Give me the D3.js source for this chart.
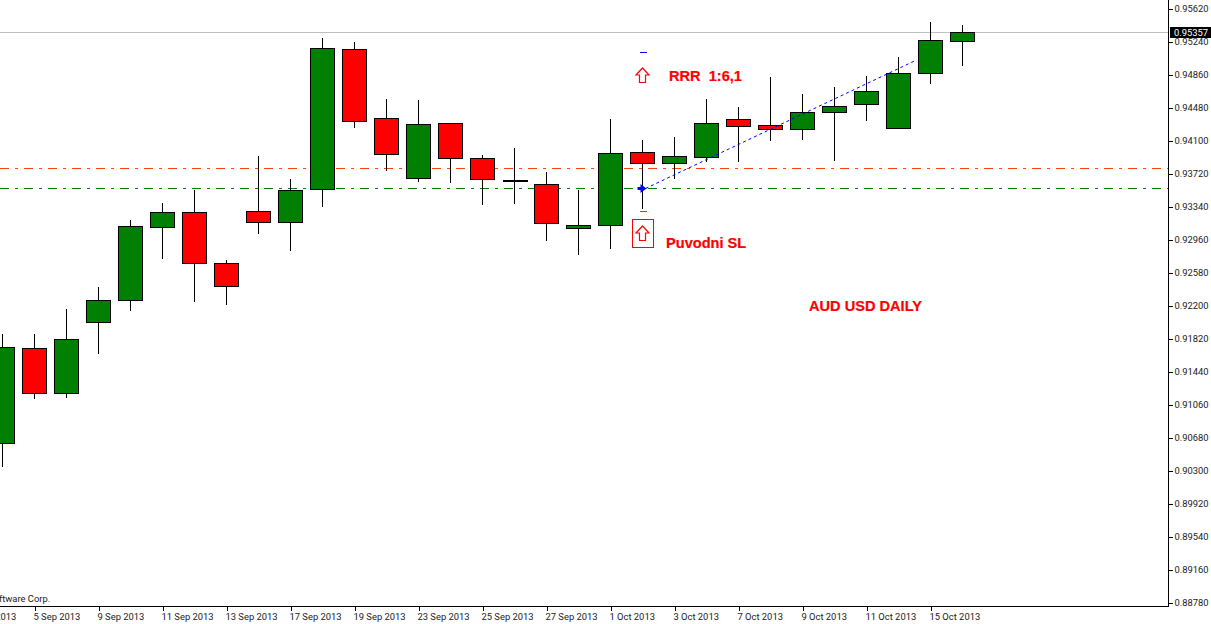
<!DOCTYPE html>
<html><head><meta charset="utf-8">
<style>html,body{margin:0;padding:0;background:#fff;overflow:hidden}svg{display:block}
.ax text{font-family:"Roboto",sans-serif;font-size:9.4px;fill:#1a1a1a}
.note{font-family:"Liberation Sans",Arial,sans-serif;font-weight:700;font-size:14.6px;fill:#ff0000;stroke:#ff0000;stroke-width:.2px}</style>
<script src="https://cdn.jsdelivr.net/npm/d3@7"></script></head><body><svg id="c" width="1211" height="624"></svg>
<script>
const categories=["3 Sep","4 Sep","5 Sep","6 Sep","9 Sep","10 Sep","11 Sep","12 Sep","13 Sep","16 Sep","17 Sep","18 Sep","19 Sep","20 Sep","23 Sep","24 Sep","25 Sep","26 Sep","27 Sep","30 Sep","1 Oct","2 Oct","3 Oct","4 Oct","7 Oct","8 Oct","9 Oct","10 Oct","11 Oct","14 Oct","15 Oct","16 Oct"];
const candleDates=categories.slice(1);
const opens=[.90622,.91716,.91198,.92016,.92269,.93110,.93282,.92695,.93294,.93167,.93547,.95159,.94365,.93674,.94307,.93904,.93651,.93605,.93098,.93133,.93973,.93847,.93916,.94353,.94284,.94238,.94434,.94526,.94250,.94883,.95252];
const closes=[.91728,.91198,.91820,.92269,.93121,.93282,.92695,.92430,.93167,.93536,.95171,.94330,.93950,.94296,.93904,.93662,.93651,.93156,.93133,.93962,.93847,.93927,.94307,.94273,.94238,.94434,.94503,.94676,.94883,.95263,.95355];
const highs=[.91878,.91878,.92166,.92419,.93190,.93386,.93536,.92730,.93927,.93662,.95286,.95240,.94584,.94572,.94307,.93939,.94019,.93743,.93536,.94353,.94112,.94146,.94584,.94492,.94837,.94641,.94722,.94848,.95067,.95470,.95436];
const lows=[.90358,.91141,.91152,.91659,.92154,.92753,.92258,.92223,.93041,.92845,.93352,.94261,.93766,.93639,.93628,.93375,.93386,.92960,.92799,.92868,.93329,.93674,.93870,.93870,.94112,.94123,.93881,.94342,.94250,.94768,.94975];
const priceTicks=[.95620,.95240,.94860,.94480,.94100,.93720,.93340,.92960,.92580,.92200,.91820,.91440,.91060,.90680,.90300,.89920,.89540,.89160,.88780];
const dateTicks=["3 Sep","5 Sep","9 Sep","11 Sep","13 Sep","17 Sep","19 Sep","23 Sep","25 Sep","27 Sep","1 Oct","3 Oct","7 Oct","9 Oct","11 Oct","15 Oct"];
const lastPrice=.95357, orangeLevel=.93789, greenLevel=.93559;
const trendDates=["2 Oct","14 Oct"], trendPrices=[.93559,.95033], trendEndShift=17;
const stopMark=.93294, targetMark=.95120, upArrowPrices=[.94865,.93045];

const svg=d3.select("#c");
const W=1168,B=606;
const x=d3.scalePoint().domain(categories).range([-29.5,962.5]);
const yRaw=d3.scaleLinear().domain([.9562,.8878]).range([9,603]);
const y=v=>Math.round(yRaw(v))+.5;
const GREEN="#008000",RED="#ff0000";

[[lastPrice,"#c0c0c0",null],[orangeLevel,"#ff4500","9 6 3 6"],[greenLevel,"#008000","9 6 3 6"]].forEach(([v,c,d])=>{
  svg.append("line").attr("x1",0).attr("x2",W).attr("y1",y(v)).attr("y2",y(v)).attr("stroke",c).attr("stroke-dasharray",d).attr("shape-rendering","crispEdges");
});
const g=svg.append("g").attr("shape-rendering","crispEdges");
candleDates.forEach((d,i)=>{
  const cx=x(d);
  g.append("line").attr("x1",cx).attr("x2",cx).attr("y1",y(highs[i])-.5).attr("y2",y(lows[i])+.5).attr("stroke","#000");
  const t=Math.max(opens[i],closes[i]),b=Math.min(opens[i],closes[i]);
  if(t===b){g.append("line").attr("x1",cx-12).attr("x2",cx+13).attr("y1",y(t)).attr("y2",y(t)).attr("stroke","#000").attr("stroke-width",2);return;}
  g.append("rect").attr("x",cx-12).attr("width",24).attr("y",y(t)).attr("height",y(b)-y(t)).attr("fill",closes[i]>opens[i]?GREEN:RED).attr("stroke","#000");
});
svg.append("line").attr("x1",x(trendDates[0])+3).attr("y1",y(trendPrices[0])).attr("x2",x(trendDates[1])+trendEndShift).attr("y2",y(trendPrices[1])).attr("stroke","#0000ff").attr("stroke-width",1).attr("stroke-dasharray","3 3");
const mx=x("2 Oct");
svg.append("path").attr("d",`M${mx-5},${y(greenLevel)-1.5}h3v-3l6,4.5l-6,4.5v-3h-3z`).attr("fill","#0000ff");
svg.append("line").attr("x1",mx-3).attr("x2",mx+4).attr("y1",y(targetMark)).attr("y2",y(targetMark)).attr("stroke","#0000ff").attr("shape-rendering","crispEdges");
svg.append("line").attr("x1",mx-3).attr("x2",mx+4).attr("y1",y(stopMark)).attr("y2",y(stopMark)).attr("stroke","#e03030").attr("shape-rendering","crispEdges");
upArrowPrices.forEach(v=>{
  const cy=y(v);
  svg.append("path").attr("d",`M${mx},${cy-7.5}l6.5,7h-3.5v7.5h-6v-7.5h-3.5z`).attr("fill","#fff").attr("stroke","#ff0000").attr("stroke-width",1.2);
});
svg.append("rect").attr("x",mx-10).attr("y",y(upArrowPrices[1])-14).attr("width",21).attr("height",28).attr("fill","none").attr("stroke","#ff0000").attr("shape-rendering","crispEdges");
svg.append("text").attr("class","note").attr("x",669).attr("y",81).text("RRR\u00a0\u00a01:6,1");
svg.append("text").attr("class","note").attr("x",666).attr("y",248).text("Puvodni SL");
svg.append("text").attr("class","note").attr("x",809).attr("y",311).text("AUD USD DAILY");
svg.append("text").attr("x",-1).attr("y",602).attr("font-family","Roboto,sans-serif").attr("font-size","9.4px").attr("fill","#1a1a1a").text("ftware Corp.");
const ay=svg.append("g").attr("class","ax").attr("transform",`translate(${W+.5},0)`)
 .call(d3.axisRight(yRaw).tickValues(priceTicks).tickFormat(d3.format(".5f")).tickSize(4).tickPadding(2));
ay.select(".domain").remove();
ay.selectAll(".tick").attr("transform",d=>`translate(0,${y(d)})`);
ay.selectAll("line").attr("stroke","#000").attr("shape-rendering","crispEdges");
ay.selectAll("text").attr("dy","0.22em");
ay.append("line").attr("y1",0).attr("y2",B+1).attr("stroke","#000").attr("shape-rendering","crispEdges");
const ax=svg.append("g").attr("class","ax").attr("transform",`translate(0,${B+.5})`)
 .call(d3.axisBottom(x).tickValues(dateTicks).tickFormat(d=>d+" 2013").tickSize(4).tickPadding(2));
ax.select(".domain").remove();
ax.selectAll("line").attr("stroke","#000").attr("shape-rendering","crispEdges");
ax.selectAll("text").attr("text-anchor","start").attr("x",-1.5).attr("y",7);
ax.append("line").attr("x1",0).attr("x2",W+1).attr("stroke","#000").attr("shape-rendering","crispEdges");
svg.append("rect").attr("x",W+2).attr("y",y(lastPrice)-5.5).attr("width",41).attr("height",11).attr("fill","#000");
svg.append("text").attr("x",W+6).attr("y",y(lastPrice)+3.5).attr("font-family","Roboto,sans-serif").attr("font-size","9.4px").attr("fill","#fff").text(d3.format(".5f")(lastPrice));
</script></body></html>
